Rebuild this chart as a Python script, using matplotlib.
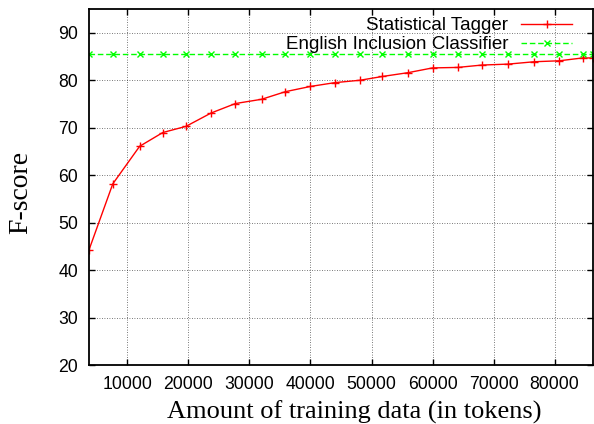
import numpy as np
import matplotlib
matplotlib.use("Agg")
import matplotlib.pyplot as plt

# training data size (tokens) and F-scores
tokens = [3700, 7600, 12000, 15800, 19600, 23700, 27700, 32000, 35900, 40000,
          44000, 48100, 51800, 56000, 60000, 64100, 68100, 72400, 76700, 80800,
          84600, 86300]
tagger = [44.3, 58.2, 66.1, 69.0, 70.3, 73.1, 75.1, 76.0, 77.6, 78.7,
          79.5, 80.0, 80.8, 81.6, 82.6, 82.7, 83.2, 83.4, 83.9, 84.1,
          84.7, 84.7]
classifier = [85.5] * len(tokens)

yticks = [20, 30, 40, 50, 60, 70, 80, 90]
xticks = [10000, 20000, 30000, 40000, 50000, 60000, 70000, 80000]

fig = plt.figure(figsize=(5.94, 4.24), dpi=100)
ax = fig.add_axes([89/594, 1 - 365.3/424, (593 - 89)/594, (365.3 - 9)/424])

ax.plot(tokens, tagger, color="red", lw=1.0, marker="+", ms=6, mew=1.0,
        label="Statistical Tagger")
ax.plot(tokens, classifier, color="#00ff00", lw=1.0, ls=(0, (4, 2)), marker="x",
        ms=4.5, mew=1.0, label="English Inclusion Classifier")

ax.set_xlim(tokens[0], tokens[-1])
ax.set_ylim(20, 95)
ax.set_xticks(xticks)
ax.set_yticks(yticks)
ax.grid(True, color="black", ls=(0, (1, 2)), lw=0.6, alpha=0.7)
ax.tick_params(direction="in", top=True, right=True, length=4, width=1,
               labelsize=12.7, pad=8)
for lab in ax.get_xticklabels() + ax.get_yticklabels():
    lab.set_family("Liberation Sans")
for s in ax.spines.values():
    s.set_linewidth(1.3)

ax.set_xlabel("Amount of training data (in tokens)", family="Liberation Serif",
              fontsize=19)
ax.set_ylabel("F-score", family="Liberation Serif", fontsize=20)
ax.xaxis.set_label_coords(0.526, -0.1)
ax.yaxis.set_label_coords(-0.111, 0.484)

leg = ax.legend(loc="upper right", frameon=False, markerfirst=False,
                prop={"family": "Liberation Sans", "size": 13.5},
                handlelength=2.7, borderaxespad=0.0, labelspacing=0.1,
                bbox_to_anchor=(0.973, 0.998), handletextpad=0.7)

fig.savefig("out.png", dpi=100)
